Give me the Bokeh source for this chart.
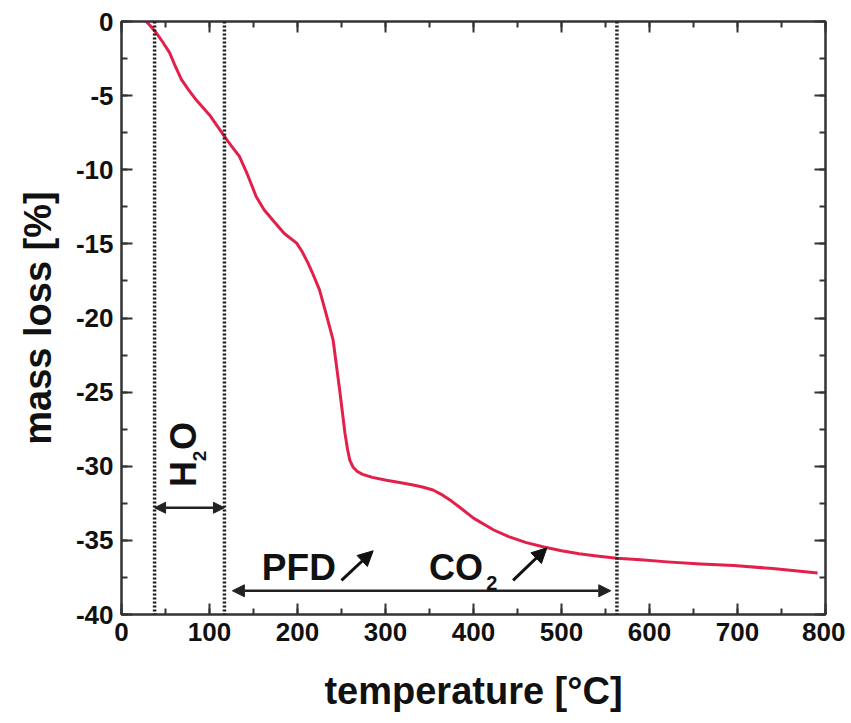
import math
from bokeh.plotting import figure
from bokeh.models import (Range1d, SingleIntervalTicker, LinearAxis, Span, Label,
                          Arrow, NormalHead, CustomJSTickFormatter)
from bokeh.embed import file_html
from bokeh.resources import INLINE

# ---- data ----
temperature = [28, 33, 39.5, 47, 54.6, 61, 68, 76, 85, 100, 117, 125, 134, 143, 153,
               162, 172, 185, 199, 205, 212, 218, 225, 232, 240.5, 248, 254, 257,
               259.5, 263, 268, 274, 285, 301, 316, 330, 342, 354, 365, 375, 385,
               400, 423, 440, 460, 480, 500, 520, 540, 563, 590, 620, 658, 696,
               740, 791]
mass_loss = [0, -0.3, -0.77, -1.4, -2.1, -3.0, -3.9, -4.6, -5.3, -6.3, -7.75, -8.4,
             -9.1, -10.3, -11.8, -12.7, -13.4, -14.3, -14.95, -15.5, -16.3, -17.1,
             -18.1, -19.6, -21.5, -24.9, -27.8, -28.9, -29.6, -30.05, -30.35, -30.55,
             -30.75, -30.95, -31.1, -31.25, -31.4, -31.6, -31.95, -32.35, -32.8,
             -33.5, -34.3, -34.75, -35.15, -35.45, -35.7, -35.9, -36.05, -36.2,
             -36.3, -36.45, -36.6, -36.7, -36.9, -37.2]

x_tick_values = [0, 100, 200, 300, 400, 500, 600, 700, 800]
x_tick_labels = ["0", "100", "200", "300", "400", "500", "600", "700", "800"]
y_tick_values = [0, -5, -10, -15, -20, -25, -30, -35, -40]
y_tick_labels = ["0", "-5", "-10", "-15", "-20", "-25", "-30", "-35", "-40"]

boundaries = [37.6, 117, 563]          # dotted vertical lines (°C)

# annotation anchors (data coords)
h2o_arrow = (37.6, 117, -32.8)
pfd_arrow = (126, 556, -38.4)
pfd_pointer = (250, -37.7, 286, -35.7)
co2_pointer = (445, -37.7, 483.5, -35.5)

FONT = "Liberation Sans"
INK = "#111111"
SPINE = "#333333"

p = figure(width=845, height=717, output_backend="svg", toolbar_location=None,
           x_range=Range1d(0, 800), y_range=Range1d(-40, 0),
           x_axis_label="temperature [°C]", y_axis_label="mass loss [%]",
           min_border_left=121, min_border_right=20, min_border_top=21,
           min_border_bottom=103)
p.background_fill_color = "white"
p.border_fill_color = "white"
p.grid.visible = False
p.outline_line_color = SPINE
p.outline_line_width = 2

def style_axis(ax, show_labels):
    ax.axis_line_color = SPINE
    ax.axis_line_width = 2
    ax.major_tick_line_color = SPINE
    ax.minor_tick_line_color = SPINE
    ax.major_tick_line_width = 2
    ax.minor_tick_line_width = 2
    ax.major_tick_in = 11
    ax.major_tick_out = 0
    ax.minor_tick_in = 6
    ax.minor_tick_out = 0
    if show_labels:
        ax.major_label_text_font = FONT
        ax.major_label_text_font_style = "bold"
        ax.major_label_text_font_size = "26px"
        ax.major_label_text_color = INK
        ax.major_label_standoff = 8
        ax.axis_label_text_font = FONT
        ax.axis_label_text_font_style = "bold"
        ax.axis_label_text_font_size = "38px"
        ax.axis_label_text_color = INK
    else:
        ax.formatter = CustomJSTickFormatter(code="return ''")
        ax.major_label_standoff = 0

p.xaxis[0].ticker = SingleIntervalTicker(interval=100, num_minor_ticks=2)
p.yaxis[0].ticker = SingleIntervalTicker(interval=5, num_minor_ticks=2)
style_axis(p.xaxis[0], True)
style_axis(p.yaxis[0], True)
p.xaxis[0].major_label_overrides = dict(zip(x_tick_values, x_tick_labels))
p.yaxis[0].major_label_overrides = dict(zip(y_tick_values, y_tick_labels))
p.xaxis[0].axis_label_standoff = 26
p.yaxis[0].axis_label_standoff = 14

top = LinearAxis(ticker=SingleIntervalTicker(interval=100, num_minor_ticks=2))
right = LinearAxis(ticker=SingleIntervalTicker(interval=5, num_minor_ticks=2))
style_axis(top, False)
style_axis(right, False)
p.add_layout(top, "above")
p.add_layout(right, "right")

# boundaries
for bx in boundaries:
    p.add_layout(Span(location=bx, dimension="height", line_color="#1a1a1a",
                      line_width=3.5, line_dash="2 2"))

# curve
p.line(temperature, mass_loss, line_color="#e3204a", line_width=3,
       line_join="round")

# double arrows
def dbl_arrow(x0, x1, y, size):
    p.add_layout(Arrow(x_start=x0, y_start=y, x_end=x1, y_end=y, line_width=2.5,
                       line_color="#222222",
                       start=NormalHead(size=size, fill_color="#222222", line_color="#222222"),
                       end=NormalHead(size=size, fill_color="#222222", line_color="#222222")))

dbl_arrow(h2o_arrow[0], h2o_arrow[1], h2o_arrow[2], 11)
dbl_arrow(pfd_arrow[0], pfd_arrow[1], pfd_arrow[2], 12)

for (xs, ys, xe, ye) in (pfd_pointer, co2_pointer):
    p.add_layout(Arrow(x_start=xs, y_start=ys, x_end=xe, y_end=ye, line_width=3,
                       line_color="#111111",
                       end=NormalHead(size=15, fill_color="#111111", line_color="#111111")))

def lab(x, y, text, size, angle=0.0):
    p.add_layout(Label(x=x, y=y, text=text, angle=angle, text_font=FONT,
                       text_font_style="bold", text_font_size=size,
                       text_color=INK, text_align="left",
                       text_baseline="middle"))

# PFD
lab(159.5, -36.8, "PFD", "37px")
# CO2
lab(349.5, -36.8, "CO", "36px")
lab(414.5, -37.9, "2", "20px")
# H2O (rotated)
lab(70.6, -31.4, "H", "36px", math.pi / 2)
lab(88.2, -29.66, "2", "19px", math.pi / 2)
lab(70.6, -28.9, "O", "36px", math.pi / 2)

open("out.html", "w").write(file_html(p, INLINE))
